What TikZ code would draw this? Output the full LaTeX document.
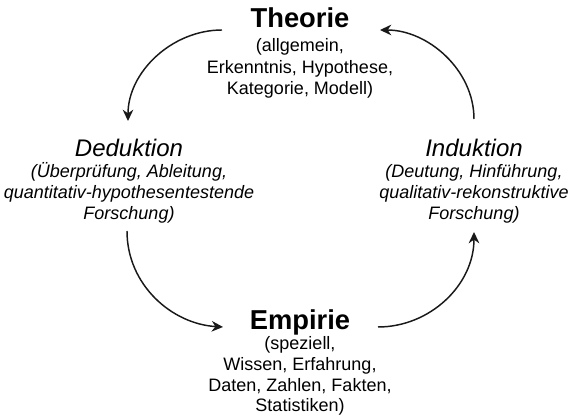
\documentclass[tikz,border=0pt]{standalone}
\usepackage{fontspec}
\setmainfont{Liberation Sans}
\usetikzlibrary{arrows.meta}
\begin{document}
\begin{tikzpicture}[x=0.75pt,y=-0.75pt,
 title/.style={anchor=base,inner sep=0pt,font=\fontsize{20.5}{24}\selectfont\bfseries},
 ititle/.style={anchor=base,inner sep=0pt,font=\fontsize{18}{21}\selectfont\itshape},
 sub/.style={anchor=base,inner sep=0pt,font=\fontsize{13.5}{16}\selectfont},
 isub/.style={anchor=base,inner sep=0pt,font=\fontsize{13.5}{16}\selectfont\itshape},
 cyc/.style={-{Stealth[length=8.5pt,width=8pt]},line width=1.1pt,color=black!90}]
\useasboundingbox (0,0) rectangle (569,416);
% Theorie
\node[title] (theo) at (300,28) {Theorie};
\node[sub] (theo1) at (300,52) {(allgemein,};
\node[sub] (theo2) at (300,73.5) {Erkenntnis, Hypothese,};
\node[sub] (theo3) at (300,95) {Kategorie, Modell)};
% Deduktion
\node[ititle] (ded) at (129,156.5) {Deduktion};
\node[isub] (ded1) at (129,178) {(Überprüfung, Ableitung,};
\node[isub] (ded2) at (129,199) {quantitativ-hypothesentestende};
\node[isub] (ded3) at (129,220) {Forschung)};
% Induktion
\node[ititle] (ind) at (474,156.5) {Induktion};
\node[isub] (ind1) at (474,178) {(Deutung, Hinführung,};
\node[isub] (ind2) at (474,199) {qualitativ-rekonstruktive};
\node[isub] (ind3) at (474,220) {Forschung)};
% Empirie
\node[title] (emp) at (300,330) {Empirie};
\node[sub] (emp1) at (300,350) {(speziell,};
\node[sub] (emp2) at (300,371) {Wissen, Erfahrung,};
\node[sub] (emp3) at (300,391.5) {Daten, Zahlen, Fakten,};
\node[sub] (emp4) at (300,412) {Statistiken)};
% arrow ends
\coordinate (a1s) at (222,30);  \coordinate (a1e) at (128,121);
\coordinate (a2s) at (474,119); \coordinate (a2e) at (380,30);
\coordinate (a3s) at (127,231); \coordinate (a3e) at (223,327);
\coordinate (a4s) at (378,327); \coordinate (a4e) at (474,232);
\draw[cyc] (a1s) .. controls (172,30) and (128,72) .. (a1e);
\draw[cyc] (a2s) .. controls (474,70) and (428,30) .. (a2e);
\draw[cyc] (a3s) .. controls (127,285) and (172,324) .. (a3e);
\draw[cyc] (a4s) .. controls (430,327) and (474,285) .. (a4e);
\end{tikzpicture}
\end{document}
